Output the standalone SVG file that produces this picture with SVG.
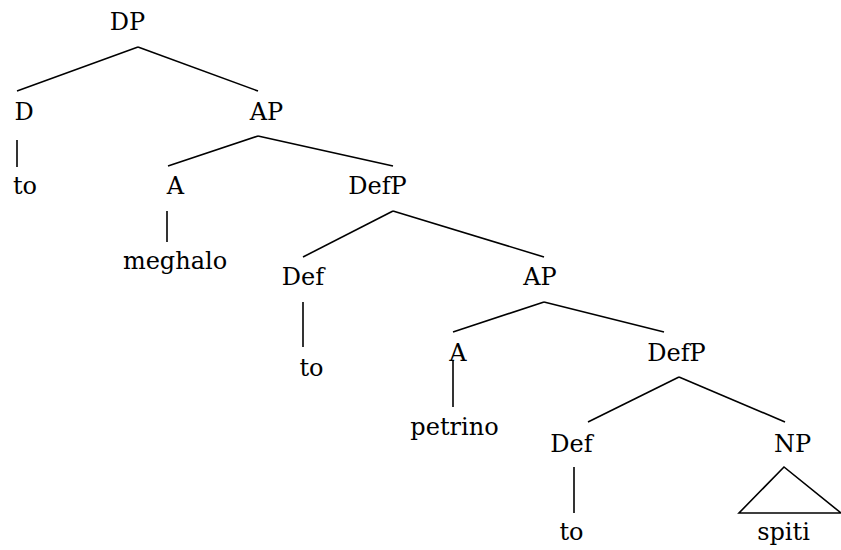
<svg xmlns="http://www.w3.org/2000/svg" width="841" height="550" viewBox="0 0 841 550">
<style>
text{font-family:"DejaVu Serif","Liberation Serif",serif;font-size:24px;fill:#000;text-anchor:middle}
.e line,.e polygon{stroke:#000;stroke-width:1.6;fill:none}
</style>
<rect width="841" height="550" fill="#fff"/>
<g class="e" id="connectors">
<line x1="138" y1="47" x2="17" y2="91"/>
<line x1="138" y1="47" x2="258" y2="91"/>
<line x1="17" y1="140" x2="17" y2="167"/>
<line x1="258" y1="136" x2="168" y2="166"/>
<line x1="258" y1="136" x2="393" y2="166"/>
<line x1="167" y1="211" x2="167" y2="242"/>
<line x1="393" y1="211" x2="303" y2="257"/>
<line x1="393" y1="211" x2="544" y2="257"/>
<line x1="303" y1="302" x2="303" y2="347"/>
<line x1="544" y1="302" x2="453" y2="332"/>
<line x1="544" y1="302" x2="664" y2="332"/>
<line x1="453" y1="360" x2="453" y2="407"/>
<line x1="679" y1="377" x2="588" y2="422"/>
<line x1="679" y1="377" x2="785" y2="422"/>
<line x1="574" y1="467" x2="574" y2="513"/>
<polygon points="784,467 739,513 841,513"/>
</g>
<g id="n-DP"><text x="127.5" y="29.5">DP</text></g>
<g id="n-D"><text x="24" y="120">D</text></g>
<g id="n-to1"><text x="25" y="194">to</text></g>
<g id="n-AP1"><text x="266.5" y="120">AP</text></g>
<g id="n-A1"><text x="175.5" y="194">A</text></g>
<g id="n-meghalo"><text x="175" y="269">meghalo</text></g>
<g id="n-DefP1"><text x="377.5" y="194">DefP</text></g>
<g id="n-Def1"><text x="303" y="285">Def</text></g>
<g id="n-to2"><text x="311.5" y="376">to</text></g>
<g id="n-AP2"><text x="540" y="285">AP</text></g>
<g id="n-A2"><text x="458" y="361">A</text></g>
<g id="n-petrino"><text x="454.5" y="435">petrino</text></g>
<g id="n-DefP2"><text x="676.5" y="361">DefP</text></g>
<g id="n-Def2"><text x="571.5" y="452">Def</text></g>
<g id="n-to3"><text x="571.5" y="540">to</text></g>
<g id="n-NP"><text x="792.5" y="452">NP</text></g>
<g id="n-spiti"><text x="783.5" y="540">spiti</text></g>
</svg>
